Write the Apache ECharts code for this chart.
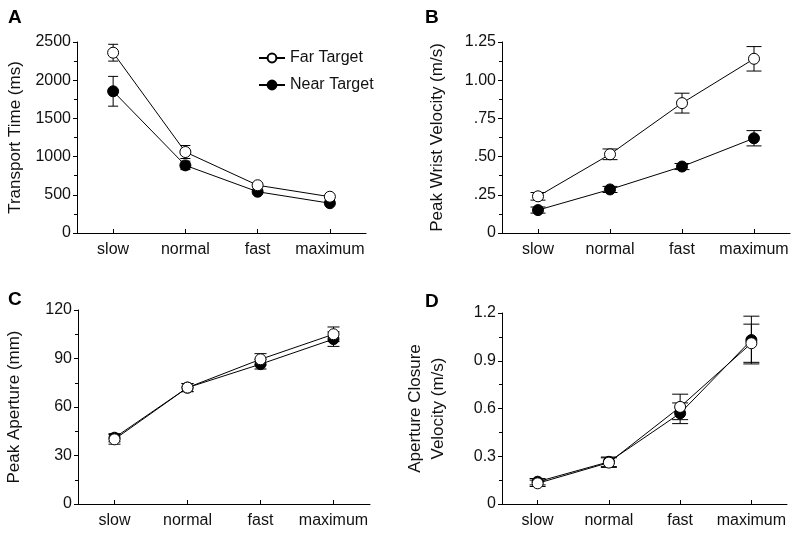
<!DOCTYPE html>
<html>
<head>
<meta charset="utf-8">
<script src="https://cdn.jsdelivr.net/npm/echarts@6/dist/echarts.min.js"></script>
<style>
html,body{margin:0;padding:0;background:#fff;}
#chart{width:800px;height:538px;}
</style>
</head>
<body>
<div id="chart"></div>
<script>
// ---- data ----
var categories = ['slow', 'normal', 'fast', 'maximum'];

var transportFar = [2360, 1060, 625, 475];
var transportFarErr = [110, 85, 30, 25];
var transportNear = [1855, 885, 540, 390];
var transportNearErr = [195, 55, 25, 20];

var wristFar = [0.24, 0.515, 0.85, 1.14];
var wristFarErr = [0.025, 0.035, 0.065, 0.08];
var wristNear = [0.15, 0.285, 0.435, 0.62];
var wristNearErr = [0.02, 0.02, 0.02, 0.05];

var apertureFar = [40, 72, 89.5, 105];
var apertureFarErr = [3, 2.5, 3.5, 4.5];
var apertureNear = [41, 72, 86.5, 102];
var apertureNearErr = [2.5, 2.5, 3, 4.5];

var closureFar = [0.13, 0.26, 0.61, 1.01];
var closureFarErr = [0.02, 0.03, 0.08, 0.12];
var closureNear = [0.14, 0.265, 0.57, 1.03];
var closureNearErr = [0.02, 0.03, 0.065, 0.15];

var yTicksA = [0, 2500, 500];
var yTicksB = [0, 1.25, 0.25];
var yTicksC = [0, 120, 30];
var yTicksD = [0, 1.2, 0.3];

// ---- helpers ----
var FONT = "'Liberation Sans', Arial, Helvetica, sans-serif";
var chart = echarts.init(document.getElementById('chart'));

var grids = [
  {left: 77, top: 42, width: 289, height: 191},
  {left: 502, top: 42, width: 288, height: 191},
  {left: 78, top: 310, width: 292, height: 194},
  {left: 502, top: 313, width: 285, height: 191}
];

function xAxis(i) {
  return {
    type: 'category', gridIndex: i, data: categories, boundaryGap: true,
    axisLine: {lineStyle: {color: '#000', width: 1}},
    axisTick: {show: true, alignWithLabel: true, inside: true, length: 4, interval: 0, lineStyle: {color: '#000'}},
    axisLabel: {color: '#111', fontSize: 16, fontFamily: FONT, margin: 9, interval: 0},
    splitLine: {show: false}
  };
}
function yAxis(i, t, name, fmt, gap) {
  return {
    type: 'value', gridIndex: i, min: t[0], max: t[1], interval: t[2],
    name: name, nameLocation: 'middle', nameGap: gap, nameRotate: 90,
    nameTextStyle: {color: '#111', fontSize: 17, fontFamily: FONT, lineHeight: 23},
    axisLine: {show: true, lineStyle: {color: '#000', width: 1}},
    axisTick: {show: true, length: 4, lineStyle: {color: '#000'}},
    minorTick: {show: true, splitNumber: 2, length: 3, lineStyle: {color: '#000'}},
    axisLabel: {color: '#111', fontSize: 16, fontFamily: FONT, margin: 6, formatter: fmt},
    splitLine: {show: false}
  };
}

function errSeries(i, vals, errs, cap) {
  var d = vals.map(function (v, k) { return [k, v - errs[k], v + errs[k]]; });
  return {
    type: 'custom', xAxisIndex: i, yAxisIndex: i, data: d, z: 1, silent: true,
    renderItem: function (params, api) {
      var x = api.value(0);
      var lo = api.coord([x, api.value(1)]);
      var hi = api.coord([x, api.value(2)]);
      var h = cap / 2;
      var st = {stroke: '#000', lineWidth: 1, fill: null};
      return {
        type: 'group',
        children: [
          {type: 'line', shape: {x1: lo[0], y1: lo[1], x2: hi[0], y2: hi[1]}, style: st},
          {type: 'line', shape: {x1: lo[0] - h, y1: lo[1], x2: lo[0] + h, y2: lo[1]}, style: st},
          {type: 'line', shape: {x1: hi[0] - h, y1: hi[1], x2: hi[0] + h, y2: hi[1]}, style: st}
        ]
      };
    }
  };
}
function lineSeries(i, name, vals, filled, z) {
  return {
    type: 'line', name: name, xAxisIndex: i, yAxisIndex: i, data: vals, z: z,
    symbol: 'circle', symbolSize: 11, showSymbol: true,
    lineStyle: {color: '#000', width: 1},
    itemStyle: {color: filled ? '#000' : '#fff', borderColor: '#000', borderWidth: 1},
    emphasis: {disabled: true}, animation: false
  };
}

var fmtInt = function (v) { return String(v); };
var fmtB = function (v) { if (v === 0) return '0'; var s = v.toFixed(2); return v < 1 ? s.slice(1) : s; };
var fmtD = function (v) { return v === 0 ? '0' : v.toFixed(1); };

var series = [];
var sets = [
  [transportFar, transportFarErr, transportNear, transportNearErr, 10],
  [wristFar, wristFarErr, wristNear, wristNearErr, 15],
  [apertureFar, apertureFarErr, apertureNear, apertureNearErr, 12],
  [closureFar, closureFarErr, closureNear, closureNearErr, 16]
];
sets.forEach(function (s, i) {
  series.push(errSeries(i, s[2], s[3], s[4]));
  series.push(errSeries(i, s[0], s[1], s[4]));
  series.push(lineSeries(i, 'Near Target', s[2], true, 2));
  series.push(lineSeries(i, 'Far Target', s[0], false, 3));
});

var letter = function (t, x, y) {
  return {type: 'text', left: x, top: y, style: {text: t, font: 'bold 19px ' + FONT, fill: '#000'}};
};

chart.setOption({
  animation: false,
  backgroundColor: '#fff',
  grid: grids,
  xAxis: [xAxis(0), xAxis(1), xAxis(2), xAxis(3)],
  yAxis: [
    yAxis(0, yTicksA, 'Transport Time (ms)', fmtInt, 50),
    yAxis(1, yTicksB, 'Peak Wrist Velocity (m/s)', fmtB, 53),
    yAxis(2, yTicksC, 'Peak Aperture (mm)', fmtInt, 52),
    yAxis(3, yTicksD, 'Aperture Closure\nVelocity (m/s)', fmtD, 52)
  ],
  legend: {
    data: ['Far Target', 'Near Target'], orient: 'vertical',
    left: 253, top: 45, itemWidth: 26, itemHeight: 11, itemGap: 11,
    textStyle: {color: '#111', fontSize: 16, fontFamily: FONT},
    selectedMode: false
  },
  graphic: [letter('A', 8, 8), letter('B', 425, 8), letter('C', 8, 290), letter('D', 425, 292)],
  series: series
});
</script>
</body>
</html>
